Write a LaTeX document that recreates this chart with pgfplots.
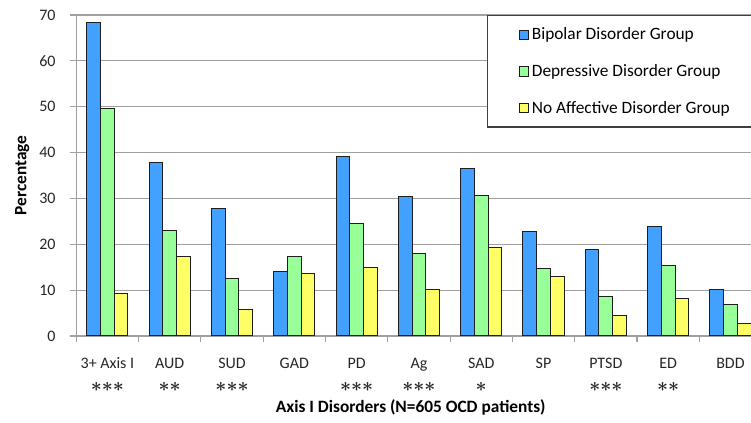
\documentclass[border=0pt]{standalone}
\usepackage{fontspec}
\setmainfont{Carlito}
\usepackage{pgfplots}
\pgfplotsset{compat=1.18}
\definecolor{bipolar}{RGB}{66,160,255}
\definecolor{depr}{RGB}{153,255,153}
\definecolor{noaff}{RGB}{255,255,102}
\definecolor{gridgray}{RGB}{160,160,160}
\definecolor{edge}{RGB}{30,30,30}
\newcommand{\stars}[1]{{\fontsize{15}{15}\selectfont\boldmath$#1$}}
\newcommand{\sa}{\mathord{\ast}}
\begin{document}
\begin{tikzpicture}
\useasboundingbox (0,0) rectangle (563.25pt,316.5pt);
\begin{scope}
\clip (0,0) rectangle (563.25pt,316.5pt);
\begin{axis}[
  at={(57.2pt,64.5pt)}, anchor=south west,
  scale only axis, width=514pt, height=240.75pt,
  xmin=0.5, xmax=11.5, ymin=0, ymax=70,
  ybar=0pt, bar width=0.22,
  axis x line*=bottom, axis y line*=left,
  axis line style={gridgray, line width=0.8pt},
  ytick={0,10,...,70},
  ymajorgrids, grid style={gridgray, line width=0.8pt},
  xtick={0.5,1.5,...,11.5}, xticklabels={},
  extra x ticks={1,2,...,11},
  extra x tick labels={\strut 3+ Axis I\\[3pt]\stars{\sa\sa\sa}, \strut AUD\\[3pt]\stars{\sa\sa}, \strut SUD\\[3pt]\stars{\sa\sa\sa}, \strut GAD, \strut PD\\[3pt]\stars{\sa\sa\sa}, \strut Ag\\[3pt]\stars{\sa\sa\sa}, \strut SAD\\[3pt]\stars{\sa}, \strut SP, \strut PTSD\\[3pt]\stars{\sa\sa\sa}, \strut ED\\[3pt]\stars{\sa\sa}, \strut BDD},
  extra x tick style={major tick length=0pt, grid=none,
    tick label style={align=center, anchor=north, yshift=-11pt}},
  tick align=outside, major tick length=4.5pt,
  tick style={gridgray, line width=0.8pt},
  tick label style={font=\fontsize{12}{14}\selectfont, text=black!85},
  yticklabel style={xshift=-7.5pt},
  /pgf/number format/assume math mode=true,
  ylabel={\bfseries Percentage},
  ylabel style={at={(axis description cs:-0.0788,0.5)}, anchor=center, font=\fontsize{13}{15}\selectfont},
  xlabel={\bfseries Axis I Disorders (N=605 OCD patients)},
  xlabel style={at={(axis description cs:0.488,-0.224)}, anchor=center, font=\fontsize{13}{15}\selectfont},
  legend cell align=left,
  legend image code/.code={\draw[#1, line width=0.6pt] (0pt,-3.4pt) rectangle (6.8pt,3.4pt);},
  legend style={at={(axis cs:7.087,70)}, anchor=north west, draw=black!75, line width=1pt,
    inner xsep=24pt, inner ysep=7pt, row sep=13pt,
    font=\fontsize{13}{15}\selectfont},
  every axis plot/.append style={draw=edge, line width=0.75pt},
]
\addplot[fill=bipolar] coordinates {(1,68.4) (2,37.9) (3,27.8) (4,14.0) (5,39.2) (6,30.4) (7,36.6) (8,22.7) (9,18.9) (10,23.8) (11,10.1)};
\addplot[fill=depr] coordinates {(1,49.7) (2,23.0) (3,12.6) (4,17.4) (5,24.6) (6,17.9) (7,30.7) (8,14.8) (9,8.7) (10,15.3) (11,6.9)};
\addplot[fill=noaff] coordinates {(1,9.3) (2,17.4) (3,5.7) (4,13.7) (5,15.0) (6,10.1) (7,19.4) (8,12.9) (9,4.4) (10,8.1) (11,2.8)};
\legend{Bipolar Disorder Group, Depressive Disorder Group, No Affective Disorder Group}
\end{axis}
\end{scope}
\end{tikzpicture}
\end{document}
